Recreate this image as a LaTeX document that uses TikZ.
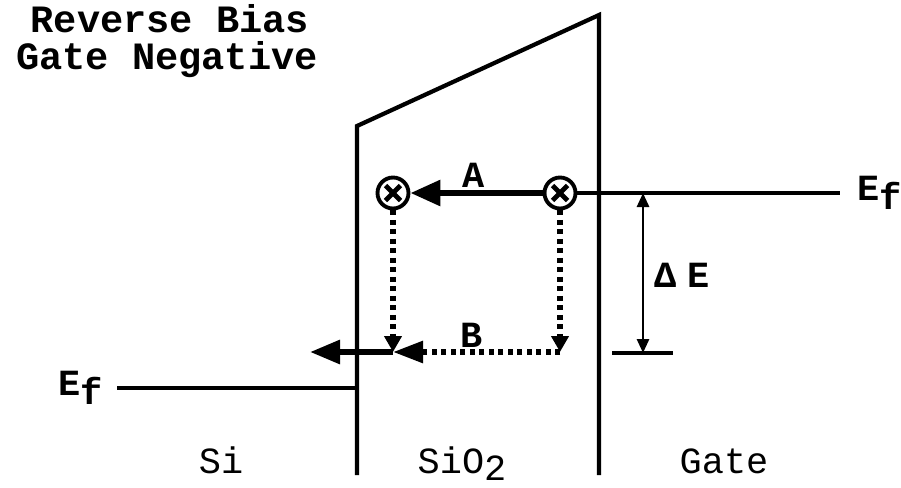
\documentclass[tikz,border=0pt]{standalone}
\usepackage{fontspec}
\setmainfont{Liberation Mono}
\usetikzlibrary{arrows.meta}
\tikzset{
  trap/.style={circle,draw,line width=1.1pt,minimum size=3.1mm,inner sep=0pt,fill=white,
    path picture={\draw[line width=1.4pt]
      ([shift={(-0.075,-0.075)}]path picture bounding box.center) -- ([shift={(0.075,0.075)}]path picture bounding box.center)
      ([shift={(-0.075,0.075)}]path picture bounding box.center) -- ([shift={(0.075,-0.075)}]path picture bounding box.center);}},
  lbl/.style={font=\fontsize{10.5}{12}\selectfont\bfseries},
  dots/.style={line width=1.6pt,dash pattern=on 1.4pt off 1.3pt},
}
\newcommand{\Ef}{E\raisebox{-0.5ex}{f}}
\begin{document}
\begin{tikzpicture}
\useasboundingbox (0,0) rectangle (9.01,4.87);
% oxide barrier
\draw[line width=1.2pt] (3.57,0.12) -- (3.57,3.61) -- (5.99,4.72) -- (5.99,0.12);
% fermi levels
\coordinate (efSi) at (1.17,0.99);
\coordinate (wallSi) at (3.57,0.99);
\coordinate (gateEf) at (8.40,2.94);
\draw[line width=1.1pt] (efSi) -- (wallSi);
\node[lbl,anchor=base east] (efSiL) at (1.15,0.92) {\Ef};
\node[lbl,anchor=base west] (efGateL) at (8.45,2.87) {\Ef};
% traps
\node[trap] (tL) at (3.93,2.94) {};
\node[trap] (tR) at (5.60,2.94) {};
\draw[line width=1.4pt] (tR) -- (gateEf);
\draw[line width=1.7pt,-{Triangle[length=3mm,width=2.5mm]}] (tR) -- (tL);
\node[lbl] (labA) at (4.74,3.12) {A};
% path B
\coordinate (bL) at (3.93,1.35);
\coordinate (bR) at (5.60,1.35);
\coordinate (tunnel) at (3.10,1.35);
\draw[dots,-{Triangle[length=1.6mm,width=1.7mm]}] (tL) -- (bL);
\draw[dots,-{Triangle[length=1.6mm,width=1.7mm]}] (tR) -- (bR);
\draw[dots,-{Triangle[length=3mm,width=2.1mm]}] (bR) -- (bL);
\draw[line width=1.7pt,-{Triangle[length=3mm,width=2.3mm]}] (bL) -- (tunnel);
\node[lbl] (labB) at (4.72,1.52) {B};
% energy difference
\coordinate (dTop) at (6.43,2.94);
\coordinate (dBot) at (6.43,1.34);
\coordinate (tickL) at (6.12,1.34);
\coordinate (tickR) at (6.73,1.34);
\draw[line width=0.8pt,{Triangle[length=1.4mm,width=1.2mm]}-{Triangle[length=1.4mm,width=1.2mm]}] (dTop) -- (dBot);
\draw[line width=0.9pt] (tickL) -- (tickR);
\node[lbl,anchor=west] (dE) at (6.42,2.12) {Δ\kern0.3em E};
% titles
\node[lbl,font=\fontsize{11}{12}\selectfont\bfseries,anchor=base] (title1) at (1.70,4.55) {Reverse Bias};
\node[lbl,font=\fontsize{11}{12}\selectfont\bfseries,anchor=base] (title2) at (1.67,4.18) {Gate Negative};
\node[font=\fontsize{10.5}{12}\selectfont,anchor=base] (si) at (2.21,0.14) {Si};
\node[font=\fontsize{10.5}{12}\selectfont,anchor=base] (ox) at (4.62,0.14) {SiO\raisebox{-0.4ex}{2}};
\node[font=\fontsize{10.5}{12}\selectfont,anchor=base] (gate) at (7.24,0.14) {Gate};
\end{tikzpicture}
\end{document}
